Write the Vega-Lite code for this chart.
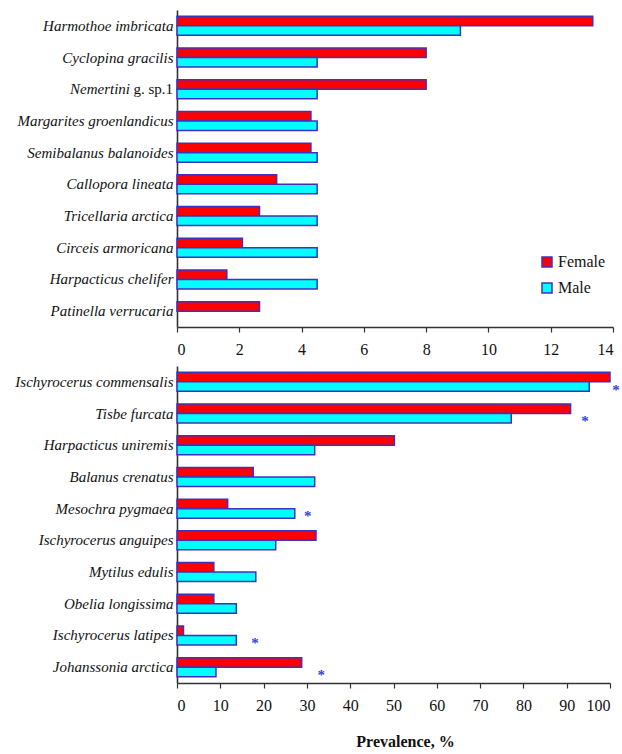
{
  "$schema": "https://vega.github.io/schema/vega-lite/v6.json",
  "background": "white",
  "padding": {"left": 14, "top": 10, "right": 5, "bottom": 5},
  "spacing": 9,
  "config": {
    "view": {"stroke": null},
    "font": "'Liberation Serif', serif",
    "axis": {
      "labelFont": "'Liberation Serif', serif",
      "labelFontSize": 16,
      "labelColor": "#111",
      "titleFont": "'Liberation Serif', serif",
      "titleColor": "#111",
      "domainColor": "#333",
      "domainWidth": 1.6,
      "tickColor": "#333",
      "tickWidth": 1.2,
      "grid": false
    },
    "legend": {
      "labelFont": "'Liberation Serif', serif",
      "labelFontSize": 16,
      "labelColor": "#111"
    }
  },
  "datasets": {
    "top": [
      {"species": "Harmothoe imbricata", "sex": "Female", "value": 13.35},
      {"species": "Harmothoe imbricata", "sex": "Male", "value": 9.1},
      {"species": "Cyclopina gracilis", "sex": "Female", "value": 8.0},
      {"species": "Cyclopina gracilis", "sex": "Male", "value": 4.5},
      {"species": "Nemertini g. sp.1", "sex": "Female", "value": 8.0},
      {"species": "Nemertini g. sp.1", "sex": "Male", "value": 4.5},
      {"species": "Margarites groenlandicus", "sex": "Female", "value": 4.3},
      {"species": "Margarites groenlandicus", "sex": "Male", "value": 4.5},
      {"species": "Semibalanus balanoides", "sex": "Female", "value": 4.3},
      {"species": "Semibalanus balanoides", "sex": "Male", "value": 4.5},
      {"species": "Callopora lineata", "sex": "Female", "value": 3.2},
      {"species": "Callopora lineata", "sex": "Male", "value": 4.5},
      {"species": "Tricellaria arctica", "sex": "Female", "value": 2.65},
      {"species": "Tricellaria arctica", "sex": "Male", "value": 4.5},
      {"species": "Circeis armoricana", "sex": "Female", "value": 2.1},
      {"species": "Circeis armoricana", "sex": "Male", "value": 4.5},
      {"species": "Harpacticus chelifer", "sex": "Female", "value": 1.6},
      {"species": "Harpacticus chelifer", "sex": "Male", "value": 4.5},
      {"species": "Patinella verrucaria", "sex": "Female", "value": 2.65}
    ],
    "bottom": [
      {"species": "Ischyrocerus commensalis", "sex": "Female", "value": 100},
      {"species": "Ischyrocerus commensalis", "sex": "Male", "value": 95.2},
      {"species": "Tisbe furcata", "sex": "Female", "value": 90.9},
      {"species": "Tisbe furcata", "sex": "Male", "value": 77.2},
      {"species": "Harpacticus uniremis", "sex": "Female", "value": 50.2},
      {"species": "Harpacticus uniremis", "sex": "Male", "value": 31.8},
      {"species": "Balanus crenatus", "sex": "Female", "value": 17.6},
      {"species": "Balanus crenatus", "sex": "Male", "value": 31.8},
      {"species": "Mesochra pygmaea", "sex": "Female", "value": 11.7},
      {"species": "Mesochra pygmaea", "sex": "Male", "value": 27.2},
      {"species": "Ischyrocerus anguipes", "sex": "Female", "value": 32.1},
      {"species": "Ischyrocerus anguipes", "sex": "Male", "value": 22.8},
      {"species": "Mytilus edulis", "sex": "Female", "value": 8.5},
      {"species": "Mytilus edulis", "sex": "Male", "value": 18.2},
      {"species": "Obelia longissima", "sex": "Female", "value": 8.5},
      {"species": "Obelia longissima", "sex": "Male", "value": 13.7},
      {"species": "Ischyrocerus latipes", "sex": "Female", "value": 1.5},
      {"species": "Ischyrocerus latipes", "sex": "Male", "value": 13.7},
      {"species": "Johanssonia arctica", "sex": "Female", "value": 28.8},
      {"species": "Johanssonia arctica", "sex": "Male", "value": 9.0}
    ],
    "significance": [
      {"species": "Ischyrocerus commensalis", "sex": "Male", "pos": 101.4},
      {"species": "Tisbe furcata", "sex": "Male", "pos": 94.2},
      {"species": "Mesochra pygmaea", "sex": "Male", "pos": 30.2},
      {"species": "Ischyrocerus latipes", "sex": "Male", "pos": 18.0},
      {"species": "Johanssonia arctica", "sex": "Male", "pos": 33.3}
    ],
    "nemertini": [
      {"species": "Nemertini g. sp.1", "genus": "Nemertini", "rest": "g. sp.1"}
    ]
  },
  "vconcat": [
    {
      "width": 436,
      "height": 317,
      "layer": [
        {
          "data": {"name": "top"},
          "mark": {"type": "bar", "stroke": "#4030c0", "strokeWidth": 1.5},
          "encoding": {
            "x": {
              "field": "value",
              "type": "quantitative",
              "scale": {"domain": [0, 14], "nice": false},
              "axis": {
                "title": null,
                "values": [0, 2, 4, 6, 8, 10, 12, 14],
                "tickSize": 5,
                "labelPadding": 9
              }
            },
            "y": {
              "field": "species",
              "type": "nominal",
              "sort": null,
              "scale": {"paddingInner": 0.4, "paddingOuter": 0.2},
              "axis": {
                "title": null,
                "ticks": false,
                "tickSize": 0,
                "labelPadding": 4,
                "labelFontSize": 15,
                "labelFontStyle": "italic",
                "labelLimit": 300,
                "labelExpr": "datum.value == 'Nemertini g. sp.1' ? '' : datum.value"
              }
            },
            "yOffset": {
              "field": "sex",
              "type": "nominal",
              "sort": ["Female", "Male"],
              "scale": {"paddingInner": 0, "paddingOuter": 0}
            },
            "color": {
              "field": "sex",
              "type": "nominal",
              "scale": {"domain": ["Female", "Male"], "range": ["#ff0000", "#00ffff"]},
              "legend": {
                "title": null,
                "orient": "none",
                "legendX": 362,
                "legendY": 244,
                "symbolType": "square",
                "symbolSize": 100,
                "symbolStrokeColor": "#4030c0",
                "symbolStrokeWidth": 1.5,
                "symbolOpacity": 1,
                "rowPadding": 10,
                "labelOffset": 3,
                "padding": 0
              }
            }
          }
        },
        {
          "data": {"name": "nemertini"},
          "mark": {"type": "text", "align": "right", "baseline": "middle", "dx": -4, "fontSize": 15, "font": "'Liberation Serif', serif", "color": "#111"},
          "encoding": {
            "x": {"datum": 0, "type": "quantitative"},
            "y": {"field": "species", "type": "nominal", "sort": null},
            "text": {"field": "rest"}
          }
        },
        {
          "data": {"name": "nemertini"},
          "mark": {"type": "text", "align": "right", "baseline": "middle", "dx": -47, "fontSize": 15, "fontStyle": "italic", "font": "'Liberation Serif', serif", "color": "#111"},
          "encoding": {
            "x": {"datum": 0, "type": "quantitative"},
            "y": {"field": "species", "type": "nominal", "sort": null},
            "text": {"field": "genus"}
          }
        }
      ]
    },
    {
      "width": 433,
      "height": 317,
      "layer": [
        {
          "data": {"name": "bottom"},
          "mark": {"type": "bar", "stroke": "#4030c0", "strokeWidth": 1.5},
          "encoding": {
            "x": {
              "field": "value",
              "type": "quantitative",
              "scale": {"domain": [0, 100], "nice": false},
              "axis": {
                "title": "Prevalence, %",
                "titleFontSize": 16,
                "titleFontWeight": "bold",
                "titlePadding": 20,
                "titleX": 228,
                "values": [0, 10, 20, 30, 40, 50, 60, 70, 80, 90, 100],
                "tickSize": 5,
                "labelPadding": 9
              }
            },
            "y": {
              "field": "species",
              "type": "nominal",
              "sort": null,
              "scale": {"paddingInner": 0.4, "paddingOuter": 0.2},
              "axis": {
                "title": null,
                "ticks": false,
                "tickSize": 0,
                "labelPadding": 4,
                "labelFontSize": 15,
                "labelFontStyle": "italic",
                "labelLimit": 300
              }
            },
            "yOffset": {
              "field": "sex",
              "type": "nominal",
              "sort": ["Female", "Male"],
              "scale": {"paddingInner": 0, "paddingOuter": 0}
            },
            "color": {
              "field": "sex",
              "type": "nominal",
              "scale": {"domain": ["Female", "Male"], "range": ["#ff0000", "#00ffff"]},
              "legend": null
            }
          }
        },
        {
          "data": {"name": "significance"},
          "mark": {"type": "text", "text": "*", "fontSize": 15, "fontWeight": "bold", "font": "'Liberation Serif', serif", "color": "#3344dd", "baseline": "middle", "dy": 3},
          "encoding": {
            "x": {"field": "pos", "type": "quantitative"},
            "y": {"field": "species", "type": "nominal", "sort": null},
            "yOffset": {"field": "sex", "type": "nominal", "sort": ["Female", "Male"]}
          }
        }
      ]
    }
  ],
  "resolve": {"scale": {"x": "independent", "y": "independent", "yOffset": "independent"}, "legend": {"color": "independent"}}
}
